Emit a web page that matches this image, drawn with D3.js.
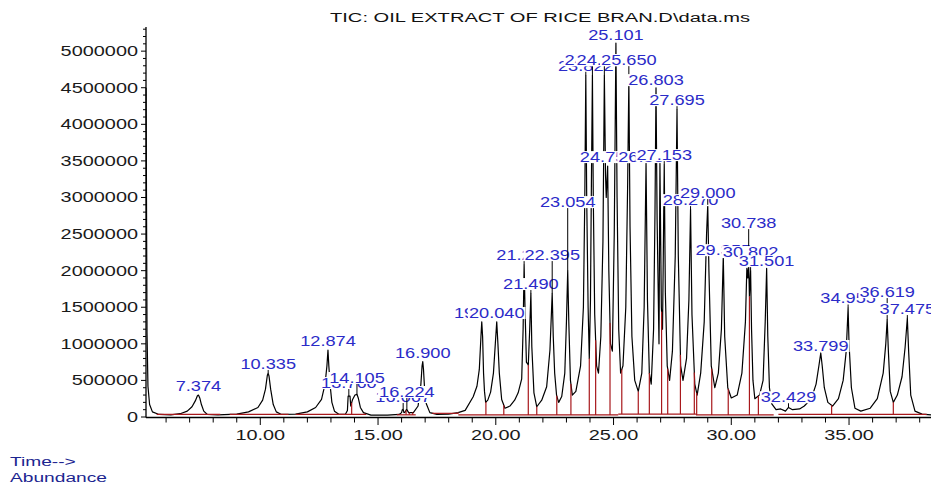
<!DOCTYPE html>
<html><head><meta charset="utf-8">
<script src="https://cdn.jsdelivr.net/npm/d3@7"></script>
<style>body{margin:0;background:#fff}svg{display:block}</style>
</head><body><svg id="c" width="931" height="486"></svg>
<script>
const title = "TIC: OIL EXTRACT OF RICE BRAN.D\\data.ms";
const yTickValues = [0, 500000, 1000000, 1500000, 2000000, 2500000, 3000000, 3500000, 4000000, 4500000, 5000000];
const xTickValues = [10, 15, 20, 25, 30, 35];

// total ion current: [retention time (min), abundance (thousands)]
const trace = [
  [5.15,4500],[5.19,1150],[5.23,420],[5.3,170],[5.42,70],[5.7,35],[6.2,30],[6.6,45],[6.9,80],[7.1,140],[7.24,220],[7.33,290],[7.374,300],[7.43,260],[7.5,170],[7.6,80],[7.75,35],[8.2,28],[9.0,40],[9.5,70],[9.9,130],[10.1,230],[10.22,380],[10.3,570],[10.335,597],[10.37,560],[10.44,380],[10.55,170],[10.68,70],[10.9,35],[11.5,40],[12.0,70],[12.35,130],[12.6,240],[12.75,450],[12.83,700],[12.874,915],[12.91,700],[12.97,420],[13.04,200],[13.15,80],[13.35,35],[13.62,40],[13.70,90],[13.73,285],[13.81,285],[13.84,150],[13.92,240],[14.02,300],[14.105,310],[14.16,260],[14.25,130],[14.38,60],[14.7,25],[15.4,25],[15.9,35],[16.0,60],[16.03,100],[16.067,105],[16.1,60],[16.16,70],[16.2,100],[16.224,100],[16.3,60],[16.5,60],[16.7,150],[16.82,450],[16.87,700],[16.9,756],[16.93,650],[16.97,420],[17.05,180],[17.2,60],[17.5,35],[18.0,40],[18.4,60],[18.7,90],
  [19.04,277],[19.2,420],[19.3,650],[19.37,1100],[19.404,1300],[19.44,1100],[19.48,600],[19.52,350],[19.57,200],[19.66,230],[19.78,340],[19.9,600],[19.98,1000],[20.04,1300],[20.09,1000],[20.15,600],[20.25,240],[20.39,119],[20.6,150],[20.8,230],[20.95,330],[21.1,520],[21.16,1200],[21.203,2080],[21.24,1500],[21.3,750],[21.38,710],[21.44,1200],[21.49,1690],[21.53,960],[21.62,330],[21.74,140],[21.95,230],[22.16,414],[22.3,915],[22.36,1400],[22.395,1690],[22.44,1100],[22.5,600],[22.58,300],[22.67,200],[22.8,280],[22.93,600],[23.0,1300],[23.054,2000],[23.1,1300],[23.17,500],[23.25,300],
  [23.4,350],[23.6,700],[23.72,1500],[23.78,3000],[23.822,4670],[23.86,3000],[23.92,1500],[23.97,800],[24.02,1600],[24.06,3200],[24.103,4670],[24.14,3000],[24.2,1400],[24.28,700],[24.36,600],[24.46,1100],[24.55,2400],[24.61,4670],[24.66,3300],[24.69,3000],[24.75,3430],[24.8,2000],[24.87,1000],[24.95,900],[25.03,2500],[25.101,5110],[25.15,3000],[25.22,1200],[25.3,600],[25.4,700],[25.52,1500],[25.6,3200],[25.65,4600],[25.7,2600],[25.78,1100],[25.9,500],[26.05,350],[26.2,600],[26.3,1500],[26.38,3470],[26.44,1600],[26.52,600],[26.6,450],[26.7,1200],[26.76,2800],[26.803,4500],[26.85,2700],[26.93,1000],[26.97,3470],[27.03,1500],[27.08,1200],[27.153,3450],[27.2,1700],[27.28,700],[27.38,500],[27.5,900],[27.62,2200],[27.695,4200],[27.75,2200],[27.85,700],[27.95,500],[28.1,800],[28.2,1600],[28.27,2840],[28.33,1400],[28.45,450],[28.55,300],[28.7,600],[28.85,1300],[28.95,2500],[29.0,2900],[29.05,2000],[29.15,700],[29.3,400],[29.45,600],[29.58,1200],[29.66,2200],[29.72,1100],[29.85,400],[30.0,260],[30.25,300],[30.45,600],[30.6,1300],[30.66,2030],[30.7,1900],[30.738,2100],[30.77,1650],[30.82,2000],[30.86,1200],[30.92,500],[31.0,250],[31.2,300],[31.35,500],[31.44,1300],[31.501,2030],[31.55,1100],[31.62,400],[31.72,180],[31.9,100],[32.1,110],[32.3,80],[32.429,130],[32.6,100],[32.9,110],[33.1,150],[33.4,250],[33.6,450],[33.72,700],[33.799,875],[33.86,700],[33.95,400],[34.1,200],[34.3,150],[34.55,250],[34.75,500],[34.88,900],[34.96,1490],[35.0,1000],[35.1,400],[35.25,120],[35.5,80],[35.9,120],[36.2,250],[36.45,600],[36.56,1000],[36.619,1330],[36.67,900],[36.75,350],[36.88,200],[37.05,300],[37.25,550],[37.38,950],[37.475,1350],[37.53,900],[37.62,300],[37.8,80],[38.1,40],[38.48,30]
];

// integration: baseline segments [start, end, level (thousands)] and peak-split drop lines (min)
const baselines = [[5.6,8.3,35],[8.7,11.2,35],[11.5,14.5,35],[15.8,16.6,30],[17.3,18.41,50],[18.41,25.2,28],[25.2,28.5,40],[28.5,31.8,28],[32.0,38.3,35]];
const dropLines = [13.88,16.19,16.33,16.47,18.41,19.58,20.34,21.38,21.74,22.59,23.19,23.97,24.24,24.85,25.35,26.05,26.52,27.04,27.30,27.84,28.43,28.53,29.17,29.87,30.77,31.15,34.26,36.88];

// peak annotations: [text, retention time, apex (thousands), label level (thousands)]
const peakLabels = [
  ["7.374",7.374,300,423],["10.335",10.335,597,724],["12.874",12.874,915,1038],["13.760",13.76,285,464],["14.105",14.105,310,533],
  ["16.067",16.067,105,273],["16.224",16.224,100,342],["16.900",16.9,756,874],["19.404",19.404,1300,1421],["20.040",20.04,1300,1421],
  ["21.203",21.203,2080,2213],["21.490",21.49,1690,1817],["22.395",22.395,1690,2213],["23.054",23.054,2000,2937],
  ["23.822",23.822,4670,4800],["24.103",24.103,4670,4877],["24.610",24.61,4670,4877],["24.755",24.75,3430,3552],["25.101",25.101,5110,5218],
  ["25.650",25.65,4600,4877],["26.380",26.38,3470,3552],["26.803",26.803,4500,4604],["27.153",27.153,3450,3579],["27.695",27.695,4200,4330],
  ["28.270",28.27,2840,2964],["29.000",29.0,2900,3060],["29.355",29.66,2200,2280],["30.738",30.738,2100,2650],["30.802",30.82,2000,2254],
  ["31.501",31.501,2030,2130],["32.429",32.429,130,270],["33.799",33.799,875,970],["34.955",34.96,1490,1620],["36.619",36.619,1330,1707],["37.475",37.475,1350,1475]
];

const svg = d3.select("#c");
const x = d3.scaleLinear().domain([5.147, 38.48]).range([146, 931]);
const y = d3.scaleLinear().domain([0, 5330000]).range([417, 27]);
const FONT = "'Liberation Sans', Arial, sans-serif";
const SX = 1.42;

function stretchedText(g, str, px, py, anchor, size, sx, fill) {
  return g.append("text")
    .attr("transform", `translate(${px},${py}) scale(${sx},1)`)
    .attr("text-anchor", anchor)
    .attr("font-family", FONT)
    .attr("font-size", size)
    .attr("fill", fill)
    .text(str);
}

// title
svg.append("text").attr("x", 540).attr("y", 22).attr("text-anchor", "middle")
  .attr("font-family", FONT).attr("font-size", 12.5).attr("fill", "#111")
  .attr("textLength", 420).attr("lengthAdjust", "spacingAndGlyphs").text(title);

// y axis
const yMinor = d3.range(0, 5300001, 100000);
const ax = svg.append("g").attr("stroke", "#000");
ax.append("line").attr("x1", 146).attr("x2", 146).attr("y1", 27).attr("y2", 417.5).attr("stroke-width", 1.3);
ax.selectAll("line.ym").data(yMinor).join("line")
  .attr("x1", d => (d % 500000 === 0 ? 141 : 143)).attr("x2", 146)
  .attr("y1", d => y(d)).attr("y2", d => y(d)).attr("stroke-width", 1);
const tl = svg.append("g");
yTickValues.forEach(v => stretchedText(tl, String(v), 138, y(v) + 5, "end", 14, SX, "#1a1a1a"));

// x axis
const xMinor = d3.range(6, 39, 1);
ax.append("line").attr("x1", 146).attr("x2", 931).attr("y1", 417.5).attr("y2", 417.5).attr("stroke-width", 1.3);
ax.selectAll("line.xm").data(xMinor).join("line")
  .attr("x1", d => x(d)).attr("x2", d => x(d))
  .attr("y1", 417.5).attr("y2", d => (d % 5 === 0 ? 425 : 422.5)).attr("stroke-width", 1);
xTickValues.forEach(v => stretchedText(tl, d3.format(".2f")(v), x(v), 440, "middle", 14, SX, "#1a1a1a"));

stretchedText(tl, "Time-->", 10, 466, "start", 13.5, SX, "#1c2590");
stretchedText(tl, "Abundance", 10, 482, "start", 13.5, SX, "#1c2590");

// chromatogram
const line = d3.line().x(d => x(d[0])).y(d => y(d[1] * 1000));
svg.append("path").datum(trace).attr("d", line)
  .attr("fill", "none").attr("stroke", "#000").attr("stroke-width", 1.2).attr("stroke-linejoin", "round");

// integration marks
const tTimes = trace.map(d => d[0]);
function traceAt(t) {
  const i = d3.bisectLeft(tTimes, t);
  if (i <= 0) return trace[0][1];
  if (i >= trace.length) return trace[trace.length - 1][1];
  const a = trace[i - 1], b = trace[i];
  return a[1] + (b[1] - a[1]) * (t - a[0]) / (b[0] - a[0]);
}
function baseAt(t) {
  const s = baselines.find(b => t >= b[0] && t <= b[1]);
  return s ? s[2] : 30;
}
const red = "#a8181c";
const ig = svg.append("g").attr("stroke", red).attr("stroke-width", 1.2);
ig.selectAll("line.b").data(baselines).join("line")
  .attr("x1", d => x(d[0])).attr("x2", d => x(d[1]))
  .attr("y1", d => y(d[2] * 1000)).attr("y2", d => y(d[2] * 1000));
ig.selectAll("line.d").data(dropLines).join("line")
  .attr("x1", d => x(d)).attr("x2", d => x(d))
  .attr("y1", d => y(baseAt(d) * 1000)).attr("y2", d => y(traceAt(d) * 1000));

// peak labels, each on its own white box
const lg = svg.append("g");
const LSX = 1.3, LFS = 14;
peakLabels.forEach(([txt, t, apex, lvl]) => {
  const cx = x(t), cy = y(lvl * 1000);
  const topApex = y(apex * 1000);
  if (topApex - (cy + 5) > 4) {
    lg.append("line").attr("x1", cx).attr("x2", cx).attr("y1", cy + 5).attr("y2", topApex)
      .attr("stroke", "#000").attr("stroke-width", 1);
  }
  const g = lg.append("g");
  const r = g.append("rect").attr("fill", "#fff");
  const te = stretchedText(g, txt, cx, cy + 5, "middle", LFS, LSX, "#2b2bc8");
  const bb = te.node().getBBox();
  const w = bb.width * LSX;
  r.attr("x", cx - w / 2 - 1).attr("y", cy - 6).attr("width", w + 2).attr("height", 12);
});
</script>
</body></html>
